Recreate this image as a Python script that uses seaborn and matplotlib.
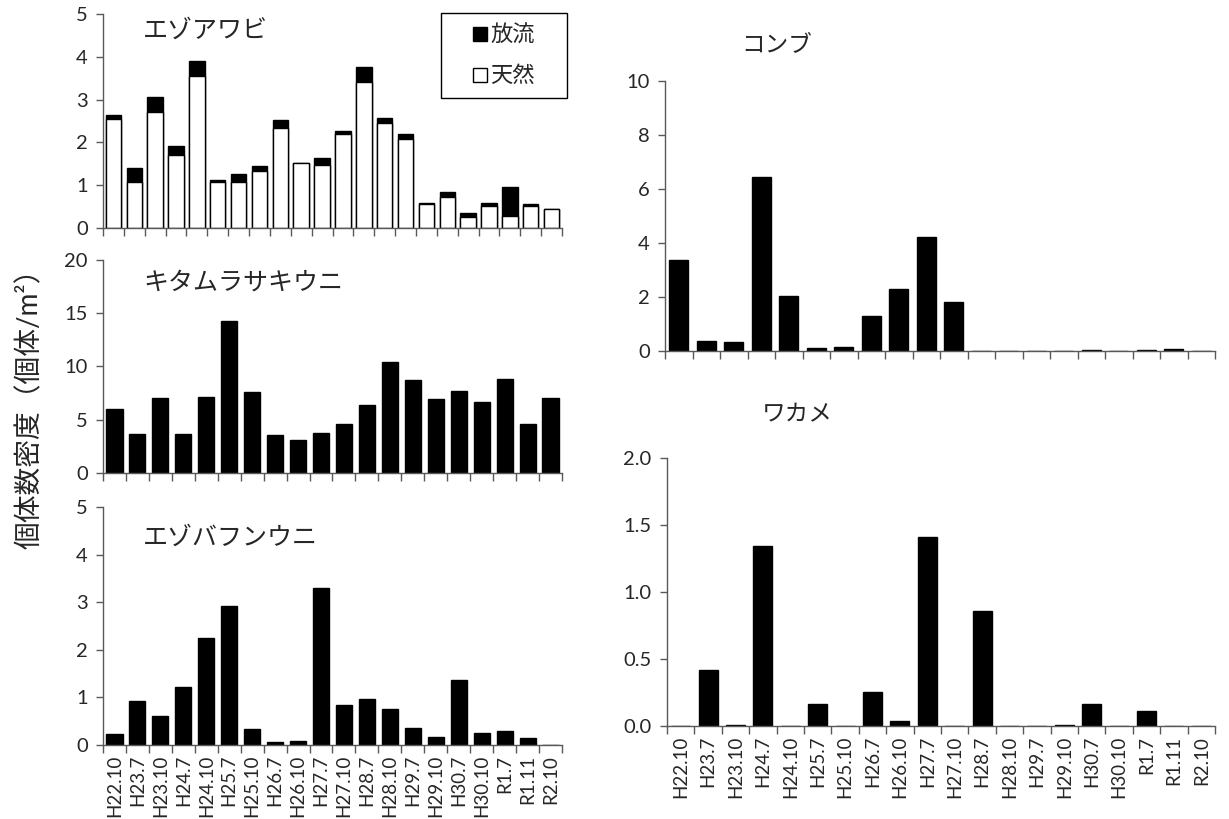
import numpy as np
import pandas as pd
import matplotlib
matplotlib.use("Agg")
import matplotlib.pyplot as plt
import seaborn as sns
from matplotlib.lines import Line2D
from matplotlib.patches import Rectangle
from matplotlib.ticker import MultipleLocator, FormatStrFormatter

# ---------------- data ----------------
periods = ["H22.10", "H23.7", "H23.10", "H24.7", "H24.10", "H25.7", "H25.10",
           "H26.7", "H26.10", "H27.7", "H27.10", "H28.7", "H28.10", "H29.7",
           "H29.10", "H30.7", "H30.10", "R1.7", "R1.11", "R2.10"]

# abalone panel has 22 surveys (labels not shown in the picture)
abalone_surveys = ["s01", "s02", "s03", "s04", "s05", "s06", "s07", "s08", "s09", "s10", "s11",
                   "s12", "s13", "s14", "s15", "s16", "s17", "s18", "s19", "s20", "s21", "s22"]
abalone_natural = [2.54, 1.08, 2.70, 1.70, 3.54, 1.07, 1.07, 1.34, 2.34, 1.51, 1.48,
                   2.19, 3.41, 2.46, 2.09, 0.55, 0.72, 0.26, 0.52, 0.27, 0.51, 0.44]
abalone_released = [0.10, 0.33, 0.35, 0.21, 0.36, 0.06, 0.19, 0.12, 0.18, 0.02, 0.15,
                    0.07, 0.35, 0.10, 0.11, 0.04, 0.11, 0.10, 0.07, 0.69, 0.04, 0.00]

kitamurasaki = [6.0, 3.7, 7.0, 3.66, 7.16, 14.25, 7.56, 3.56, 3.06, 3.72, 4.63,
                6.38, 10.38, 8.69, 6.94, 7.72, 6.69, 8.78, 4.59, 7.06]
ezobafun = [0.23, 0.93, 0.60, 1.21, 2.25, 2.93, 0.34, 0.06, 0.09, 3.29, 0.84,
            0.97, 0.76, 0.36, 0.16, 1.37, 0.26, 0.29, 0.14, 0.0]
konbu = [3.38, 0.36, 0.32, 6.46, 2.03, 0.10, 0.16, 1.31, 2.30, 4.23, 1.82,
         0.0, 0.0, 0.0, 0.0, 0.02, 0.0, 0.03, 0.06, 0.0]
wakame = [0.0, 0.42, 0.005, 1.345, 0.0, 0.166, 0.0, 0.252, 0.035, 1.41, 0.0,
          0.86, 0.0, 0.0, 0.005, 0.166, 0.0, 0.11, 0.0, 0.0]

titles = ["エゾアワビ", "キタムラサキウニ", "エゾバフンウニ", "コンブ", "ワカメ"]
legend_labels = ["放流", "天然"]
ylabel_text = "個体数密度（個体/m²）"

# ---------------- style ----------------
sns.set_theme(style="white")
plt.rcParams["font.family"] = ["Lato", "Noto Sans CJK JP", "DejaVu Sans"]
AX_COL = "#595959"
W, H = 1229, 819

fig = plt.figure(figsize=(W / 100, H / 100), dpi=100)


def px_axes(left, top, right, bottom):
    return fig.add_axes([left / W, 1 - bottom / H, (right - left) / W, (bottom - top) / H])


def style(ax, n, ymax, ystep, labels=None, fmt=None):
    ax.set_xlim(-0.5, n - 0.5)
    ax.set_ylim(0, ymax)
    ax.yaxis.set_major_locator(MultipleLocator(ystep))
    if fmt:
        ax.yaxis.set_major_formatter(FormatStrFormatter(fmt))
    for s in ["top", "right"]:
        ax.spines[s].set_visible(False)
    for s in ["left", "bottom"]:
        ax.spines[s].set_color(AX_COL)
        ax.spines[s].set_linewidth(1.0)
    ax.set_xticks(range(n))
    if labels is not None:
        ax.set_xticklabels(labels, rotation=90, fontsize=13.5)
    else:
        ax.set_xticklabels([])
    ax.set_xticks(np.arange(-0.5, n, 1.0), minor=True)
    ax.tick_params(axis="x", which="major", length=0, pad=7)
    ax.tick_params(axis="x", which="minor", length=6, width=1, color=AX_COL, direction="out", bottom=True)
    ax.tick_params(axis="y", which="major", length=5, width=1, color=AX_COL, direction="out",
                   left=True, labelsize=14.5, pad=6)
    ax.set_xlabel("")
    ax.set_ylabel("")
    ax.grid(False)


def bars(ax, cats, vals, color="black", width=0.7):
    df = pd.DataFrame({"cat": cats, "val": vals})
    sns.barplot(data=df, x="cat", y="val", order=cats, color=color, edgecolor="black",
                linewidth=1.0, width=width, saturation=1, ax=ax)


# ---- abalone (stacked) ----
ax1 = px_axes(103, 14, 562, 228)
totals = [a + b for a, b in zip(abalone_natural, abalone_released)]
bars(ax1, abalone_surveys, totals, "black", 0.74)
bars(ax1, abalone_surveys, abalone_natural, "white", 0.74)
style(ax1, len(abalone_surveys), 5, 1)

# legend frame + entries
bx0, by0, bx1, by1 = 441, 13, 567, 98
fig.patches.append(Rectangle((bx0 / W, 1 - by1 / H), (bx1 - bx0) / W, (by1 - by0) / H,
                             transform=fig.transFigure, fill=False, edgecolor="black",
                             linewidth=1.0))
handles = [Line2D([], [], marker="s", linestyle="none", markersize=10,
                  markerfacecolor="black", markeredgecolor="black"),
           Line2D([], [], marker="s", linestyle="none", markersize=10,
                  markerfacecolor="white", markeredgecolor="black")]
leg = fig.legend(handles, legend_labels, loc="center",
                 bbox_to_anchor=((bx0 + bx1) / 2 / W, 1 - (by0 + by1) / 2 / H),
                 frameon=False, fontsize=16, handlelength=0.6, handletextpad=0.15,
                 labelspacing=0.9, borderpad=0, borderaxespad=0)

# ---- kitamurasaki ----
ax2 = px_axes(103, 260, 562, 473)
bars(ax2, periods, kitamurasaki)
style(ax2, len(periods), 20, 5)

# ---- ezobafun ----
ax3 = px_axes(103, 507, 562, 745)
bars(ax3, periods, ezobafun)
style(ax3, len(periods), 5, 1, labels=periods)

# ---- konbu ----
ax4 = px_axes(665, 81, 1215, 351)
bars(ax4, periods, konbu)
style(ax4, len(periods), 10, 2)

# ---- wakame ----
ax5 = px_axes(667, 458, 1215, 726)
bars(ax5, periods, wakame)
style(ax5, len(periods), 2.0, 0.5, labels=periods, fmt="%.1f")

# ---- titles ----
fig.text(143 / W, 1 - 30 / H, titles[0], ha="left", va="center", fontsize=18)
fig.text(143 / W, 1 - 282 / H, titles[1], ha="left", va="center", fontsize=18)
fig.text(143 / W, 1 - 537 / H, titles[2], ha="left", va="center", fontsize=18)
fig.text(777 / W, 1 - 45 / H, titles[3], ha="center", va="center", fontsize=17)
fig.text(797 / W, 1 - 415 / H, titles[4], ha="center", va="center", fontsize=17)

fig.text(30 / W, 1 - 402 / H, ylabel_text, rotation=90, ha="center", va="center", fontsize=20)

fig.savefig("out.png", dpi=100)
